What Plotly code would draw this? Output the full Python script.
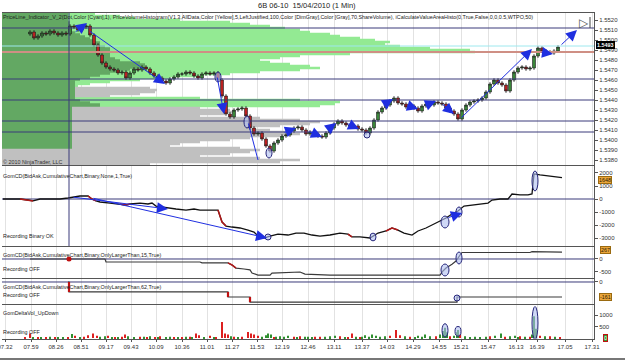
import plotly.graph_objects as go

# ---------------- data ----------------
# x positions are bar slots (1 slot ~ 1 minute bar); time labels at tick slots
tick_pos = [5, 31, 56, 81, 106, 131, 156, 182, 207, 232, 257, 282, 308, 334, 362, 387,
            413, 439, 461, 488, 516, 537, 565, 592]
tick_txt = ["07.32", "07.59", "08.26", "08.51", "09.17", "09.43", "10.09", "10.36", "11.01",
            "11.27", "11.53", "12.19", "12.46", "13.11", "13.37", "14.03", "14.29", "14.55",
            "15.21", "15.47", "16.13", "16.39", "17.05", "17.31"]

# main panel: price (close every 4 bars)
price_x = list(range(30, 562, 4))
price_close = [
    1.5508, 1.5502, 1.5504, 1.5507, 1.5506, 1.5509, 1.5507, 1.5505, 1.5507, 1.5506,
    1.5514, 1.5513, 1.5510, 1.5513, 1.5514, 1.5505, 1.5495, 1.5485,
    1.5477, 1.5473, 1.5471, 1.5470, 1.5467, 1.5468, 1.5462, 1.5467, 1.5471, 1.5470,
    1.5473, 1.5471, 1.5467, 1.5464, 1.5462, 1.5459, 1.5457, 1.5461, 1.5463, 1.5466,
    1.5466, 1.5468, 1.5467, 1.5464, 1.5462, 1.5466, 1.5467, 1.5466, 1.5467, 1.5460,
    1.5444, 1.5426, 1.5423, 1.5430, 1.5431, 1.5432, 1.5424, 1.5412, 1.5406, 1.5407,
    1.5401, 1.5394, 1.5389, 1.5397, 1.5400, 1.5404, 1.5405, 1.5409, 1.5412, 1.5413,
    1.5410, 1.5406, 1.5408, 1.5406, 1.5404, 1.5403, 1.5407, 1.5412, 1.5416, 1.5419,
    1.5417, 1.5415, 1.5413, 1.5414, 1.5411, 1.5410, 1.5407, 1.5412, 1.5420, 1.5428,
    1.5432, 1.5435, 1.5439, 1.5442, 1.5437, 1.5436, 1.5433, 1.5434, 1.5432, 1.5429,
    1.5434, 1.5436, 1.5435, 1.5438, 1.5437, 1.5436, 1.5432, 1.5429, 1.5426, 1.5421,
    1.5430, 1.5435, 1.5438, 1.5439, 1.5440, 1.5442, 1.5448, 1.5456, 1.5460, 1.5457,
    1.5455, 1.5449, 1.5460, 1.5468, 1.5472, 1.5473, 1.5471, 1.5472, 1.5484, 1.5492,
    1.5489, 1.5488, 1.5487, 1.5489, 1.5493]
first_open = 1.5506
wick = 0.0002
last_price = 1.5493

level_lines = [1.5512, 1.5461, 1.5440, 1.5419, 1.5408]
poc_price = 1.5488
priceline_price = 1.5494
cursor_x = 69

# volume profile rows (0.0002 each, from 1.5526 down): gray-histogram end, green-histogram end
vp_gray_end = [68, 68, 68, 68, 70, 70, 70, 72, 72, 75, 80, 85, 90, 95, 100, 100, 105, 110, 110, 110,
               110, 110, 115, 120, 140, 145, 145, 140, 130, 120, 110, 100, 90, 80, 75, 75, 75, 150,
               157, 155, 140, 110, 75, 80, 90, 100, 100, 200, 230, 235, 225, 200, 260, 300, 320, 310,
               280, 250, 270, 290, 300, 280, 250, 230, 200, 180, 170, 240, 260, 250, 230, 200, 260,
               300, 280, 150]
vp_green_end = [95, 120, 135, 180, 230, 250, 270, 285, 300, 310, 330, 340, 360, 375, 390, 385, 400,
                430, 470, 475, 350, 300, 280, 260, 270, 290, 310, 320, 300, 260, 230, 200, 170, 140,
                110, 90, 78, 75, 75, 75, 75, 75, 200, 300, 340, 335, 320, 72, 72, 72, 72, 72, 72, 72,
                72, 72, 72, 72, 72, 72, 72, 72, 72, 72, 72, 72, 72, 72, 0, 0, 0, 0, 0, 0, 0, 0]
vp_top, vp_step = 1.5526, 0.0002
vp_levels = [round(vp_top - vp_step * i, 4) for i in range(len(vp_gray_end))]

# arrows: (x_tail, y_tail, x_head, y_head, has_head)
main_arrows = [(88, 1.5510, 165, 1.5456, 1), (74, 1.5507, 87, 1.5517, 1), (217, 1.5464, 224, 1.5426, 1),
               (248, 1.5418, 258, 1.5380, 0), (283, 1.5407, 296, 1.5412, 1), (308, 1.5409, 322, 1.5403, 1),
               (326, 1.5409, 336, 1.5417, 1), (346, 1.5417, 359, 1.5411, 1), (382, 1.5434, 393, 1.5441, 1),
               (406, 1.5435, 418, 1.5431, 1), (424, 1.5434, 436, 1.5439, 1), (441, 1.5437, 454, 1.5426, 1),
               (460, 1.5421, 532, 1.5491, 1), (540, 1.5488, 553, 1.5486, 1), (560, 1.5494, 577, 1.5510, 1)]
# ellipses: (x_center, y_center, half_width, half_height)
main_ellipses = [(218, 1.5463, 3, 0.0005), (247, 1.5418, 3, 0.0006), (269, 1.5387, 3, 0.0005),
                 (367, 1.5405, 3, 0.0003)]

# panel 2: cumulative delta
cd_x = [3, 20, 28, 33, 40, 50, 60, 68, 74, 80, 88, 92, 96, 100, 110, 120, 126, 130, 140, 148,
        152, 156, 162, 168, 176, 186, 194, 200, 210, 218, 222, 226, 232, 240, 248, 254, 258, 264, 270, 278,
        288, 296, 304, 312, 320, 330, 340, 348, 352, 360, 370, 378, 386, 392, 398, 404, 412, 418, 426, 434,
        440, 446, 452, 458, 464, 472, 480, 488, 492, 500, 508, 512, 520, 528, 532, 534, 540, 548, 556, 562]
cd_v = [0, 0, -77, -150, 0, 0, 0, 77, 150, 230, 230, 0, -150, -230, -310, -385, -460, -385, -310, -385,
        -310, -540, -615, -690, -770, -850, -770, -850, -850, -850, -1770, -2080, -2155, -2230, -2390,
        -2540, -2850, -3000, -2850, -2700, -2770, -2620, -2620, -2770, -2850, -2770, -2620, -2700, -2920,
        -2920, -3000, -2620, -2460, -2230, -2390, -2620, -2770, -2460, -2230, -1920, -1690, -1460, -1150,
        -920, -540, -460, -385, -310, -77, 0, 0, 385, 310, 310, 385, 1925, 1850, 1770, 1690, 1648]
cd_red = [(1, 3), (10, 12), (15, 17), (29, 31), (47, 48), (52, 54)]
cd_last = 1648
cd_arrows = [(72, 154, 168, -770, 1), (92, 77, 267, -3000, 1), (447, -1460, 462, -1080, 1)]
cd_ellipses = [(268, -2923, 3, 230), (373, -2923, 3, 300), (445, -1770, 4, 460), (459, -1000, 3, 385),
               (535, 1385, 3, 770)]

# panel 3: cumulative delta, larger than 15
p3_x = [30, 50, 69, 105, 106, 200, 202, 228, 232, 236, 244, 250, 252, 258, 270, 272, 300, 305, 330,
        440, 443, 446, 452, 456, 460, 462, 530, 532, 562]
p3_v = [0, 0, 0, 0, -115, -115, -150, -150, -230, -350, -385, -420, -540, -620, -620, -540, -500, -580,
        -620, -620, -460, -350, -200, -80, 150, 250, 250, 280, 267]
p3_red = [(7, 9)]
p3_last = 267
p3_ellipses = [(445, -423, 4, 230), (459, 38, 3, 230)]

# panel 4: cumulative delta, larger than 62
p4_x = [68, 69, 228, 250, 457, 562]
p4_v = [0, -107, -161, -215, -161, -161]
p4_last = -161
p4_ellipses = [(457, -172, 3, 32)]

# panel 5: delta volume up / down
up_x = [33, 41, 50, 58, 63, 72, 80, 100, 105, 112, 118, 128, 134, 144, 150, 158, 166, 170, 178, 186,
        192, 204, 214, 231, 238, 262, 266, 268, 271, 276, 280, 284, 288, 297, 305, 308, 312, 325, 330,
        335, 345, 356, 362, 365, 369, 372, 376, 380, 385, 405, 415, 418, 422, 425, 430, 440, 443, 445,
        447, 454, 457, 458, 465, 470, 475, 480, 486, 495, 501, 510, 515, 518, 525, 532, 534, 536, 545, 555]
up_v = [40, 30, 50, 25, 30, 170, 40, 50, 80, 30, 40, 80, 30, 50, 80, 30, 40, 60, 30, 50,
        40, 30, 40, 80, 40, 60, 120, 200, 150, 60, 80, 50, 100, 40, 60, 60, 40, 50, 80,
        100, 40, 60, 50, 120, 60, 150, 100, 50, 80, 80, 40, 100, 60, 150, 80, 150, 300, 450,
        250, 100, 250, 350, 80, 40, 60, 40, 50, 100, 200, 80, 100, 40, 60, 150, 950, 400, 80, 60]
dn_x = [25, 30, 38, 46, 55, 68, 75, 84, 88, 93, 97, 108, 115, 122, 125, 140, 147, 155, 160, 174,
        182, 190, 196, 199, 210, 216, 222, 225, 228, 234, 242, 248, 251, 254, 258, 274, 294, 300, 315,
        320, 340, 348, 352, 360, 390, 396, 400, 410, 436, 450, 460, 490, 505, 520, 530, 540, 550, 560]
dn_v = [30, 200, 40, 30, 40, 40, 100, 50, 120, 200, 100, 100, 40, 50, 150, 60, 40, 30, 80, 40,
        30, 50, 200, 120, 100, 40, 700, 200, 150, 60, 50, 260, 200, 150, 100, 40, 60, 80, 60,
        50, 80, 40, 200, 40, 100, 350, 120, 60, 80, 80, 150, 80, 60, 80, 50, 100, 80, 40]
p5_last = 0
p5_ellipses = [(445, 333, 3, 290), (458, 290, 3, 210), (535, 652, 3, 718)]

# ---------------- layout geometry ----------------
W, H = 625, 361
ML, MR, MT, MB = 2, 31, 13, 22
X0, X1 = 2, 594
PH = H - MT - MB


def fx(px):
    return (px - X0) / (X1 - X0)


def fy(py):
    return (H - MB - py) / PH


dom = {1: [fy(165), 1.0], 2: [fy(246), fy(166)], 3: [fy(278), fy(247)],
       4: [fy(304), fy(279)], 5: [0.0, fy(305)]}
yrng = {1: [1.5375, 1.5527], 2: [-3615, 2538], 3: [-731, 461], 4: [-236, 32], 5: [-43, 1435]}

FONT = "Liberation Sans, Arial, sans-serif"
NAVY = "#3b3b7a"
AX = "#555555"
SMALL = 5.4

fig = go.Figure()

# ---- volume profile (histogram) ----
dk_len, lg_base, lg_len, gr_base, gr_len = [], [], [], [], []
for s, g in zip(vp_gray_end, vp_green_end):
    m = min(s, g)
    dk_len.append(max(m - X0, 0))
    lg_base.append(s)
    lg_len.append(g - s if g > s else 0)
    b = max(g, X0)
    gr_base.append(b)
    gr_len.append(s - b if s > b else 0)

bw = vp_step * 1.2
fig.add_trace(go.Bar(orientation="h", y=vp_levels, x=dk_len, base=[X0] * len(vp_levels), width=bw,
                     marker=dict(color="#63a863", line=dict(width=0)), xaxis="x", yaxis="y", hoverinfo="skip"))
fig.add_trace(go.Bar(orientation="h", y=vp_levels, x=lg_len, base=lg_base, width=bw,
                     marker=dict(color="#93ea93", line=dict(width=0)), xaxis="x", yaxis="y", hoverinfo="skip"))
fig.add_trace(go.Bar(orientation="h", y=vp_levels, x=gr_len, base=gr_base, width=bw,
                     marker=dict(color="#c0c0c0", line=dict(width=0)), xaxis="x", yaxis="y", hoverinfo="skip"))

# ---- level lines ----
fig.add_trace(go.Scatter(x=[X0, X1], y=[priceline_price] * 2, mode="lines",
                         line=dict(color="#9ee8ee", width=1), xaxis="x", yaxis="y", hoverinfo="skip"))
fig.add_trace(go.Scatter(x=[X0, X1], y=[poc_price] * 2, mode="lines",
                         line=dict(color="#cf8f84", width=2), xaxis="x", yaxis="y", hoverinfo="skip"))
for lv in level_lines:
    fig.add_trace(go.Scatter(x=[X0, X1], y=[lv, lv], mode="lines",
                             line=dict(color=NAVY, width=1), xaxis="x", yaxis="y", hoverinfo="skip"))

# ---- candles ----
opens = [first_open] + price_close[:-1]
highs = [max(o, c) + wick for o, c in zip(opens, price_close)]
lows = [min(o, c) - wick for o, c in zip(opens, price_close)]
fig.add_trace(go.Candlestick(x=price_x, open=opens, high=highs, low=lows, close=price_close,
                             increasing=dict(fillcolor="#3d8f3d", line=dict(color="#1c1c1c", width=0.7)),
                             decreasing=dict(fillcolor="#c62222", line=dict(color="#1c1c1c", width=0.7)),
                             whiskerwidth=0, xaxis="x", yaxis="y", hoverinfo="skip"))

# ---- panel 2 ----
fig.add_trace(go.Scatter(x=[X0, X1], y=[0, 0], mode="lines", line=dict(color=NAVY, width=1),
                         xaxis="x2", yaxis="y2", hoverinfo="skip"))
fig.add_trace(go.Scatter(x=cd_x, y=cd_v, mode="lines", line=dict(color="#111111", width=1.3),
                         xaxis="x2", yaxis="y2", hoverinfo="skip"))
rx, ry = [], []
for a, b in cd_red:
    rx += cd_x[a:b + 1] + [None]
    ry += cd_v[a:b + 1] + [None]
fig.add_trace(go.Scatter(x=rx, y=ry, mode="lines", line=dict(color="#b01818", width=1.5),
                         xaxis="x2", yaxis="y2", hoverinfo="skip"))

# ---- panel 3 ----
fig.add_trace(go.Scatter(x=[X0, X1], y=[0, 0], mode="lines", line=dict(color=NAVY, width=1),
                         xaxis="x3", yaxis="y3", hoverinfo="skip"))
fig.add_trace(go.Scatter(x=p3_x, y=p3_v, mode="lines", line=dict(color="#3a3a3a", width=1.2),
                         xaxis="x3", yaxis="y3", hoverinfo="skip"))
rx, ry = [], []
for a, b in p3_red:
    rx += p3_x[a:b + 1] + [None]
    ry += p3_v[a:b + 1] + [None]
fig.add_trace(go.Scatter(x=rx, y=ry, mode="lines", line=dict(color="#b01818", width=1.5),
                         xaxis="x3", yaxis="y3", hoverinfo="skip"))
fig.add_trace(go.Scatter(x=[cursor_x], y=[0], mode="markers", marker=dict(color="#c01010", size=5),
                         xaxis="x3", yaxis="y3", hoverinfo="skip"))

# ---- panel 4 ----
fig.add_trace(go.Scatter(x=[X0, X1], y=[0, 0], mode="lines", line=dict(color=NAVY, width=1),
                         xaxis="x4", yaxis="y4", hoverinfo="skip"))
fig.add_trace(go.Scatter(x=p4_x, y=p4_v, mode="lines", line=dict(color="#3a3a3a", width=1.2, shape="hv"),
                         xaxis="x4", yaxis="y4", hoverinfo="skip"))
rx, ry = [], []
for i in range(1, 4):
    rx += [p4_x[i], p4_x[i], None]
    ry += [p4_v[i - 1], p4_v[i], None]
fig.add_trace(go.Scatter(x=rx, y=ry, mode="lines", line=dict(color="#c01010", width=2.2),
                         xaxis="x4", yaxis="y4", hoverinfo="skip"))

# ---- panel 5 ----
fig.add_trace(go.Bar(x=up_x, y=up_v, width=1.6, marker=dict(color="#2f8f2f", line=dict(width=0)),
                     xaxis="x5", yaxis="y5", hoverinfo="skip"))
fig.add_trace(go.Bar(x=dn_x, y=dn_v, width=1.6, marker=dict(color="#dd1f1f", line=dict(width=0)),
                     xaxis="x5", yaxis="y5", hoverinfo="skip"))

# ---------------- shapes ----------------
shapes = []
for ax_i, ells in [(1, main_ellipses), (2, cd_ellipses), (3, p3_ellipses), (4, p4_ellipses), (5, p5_ellipses)]:
    sfx = "" if ax_i == 1 else str(ax_i)
    for cx, cy, hw, hh in ells:
        shapes.append(dict(type="circle", xref="x" + sfx, yref="y" + sfx, x0=cx - hw, x1=cx + hw,
                           y0=cy - hh, y1=cy + hh, fillcolor="rgba(175,190,240,0.6)",
                           line=dict(color="#26267a", width=1), layer="above"))
shapes.append(dict(type="line", xref="x", yref="paper", x0=cursor_x, x1=cursor_x, y0=dom[2][0], y1=1,
                   line=dict(color=NAVY, width=1), layer="above"))
# play icon bar and bottom frame
shapes.append(dict(type="line", xref="paper", yref="paper", x0=fx(590), x1=fx(590), y0=fy(17), y1=fy(28),
                   line=dict(color="#444", width=1)))
shapes.append(dict(type="line", xref="paper", yref="paper", x0=fx(0), x1=fx(625), y0=fy(359), y1=fy(359),
                   line=dict(color="#777", width=2)))

# ---------------- annotations ----------------
ann = []


def txt(px, py, s, size=SMALL, color="#222", anchor="left"):
    ann.append(dict(xref="paper", yref="paper", x=fx(px), y=fy(py), text=s, showarrow=False,
                    xanchor=anchor, yanchor="middle", borderpad=0,
                    font=dict(size=size, color=color, family=FONT)))


txt(307, 6, "6B 06-10  15/04/2010 (1 Min)", size=7.5, anchor="center")
txt(2, 17, "PriceLine_Indicator_V_2(Dot,Color [Cyan],1), PriceVolumeHistogram(V1.3,AllData,Color [Yellow],5,"
           "LeftJustified,100,Color [DimGray],Color [Gray],70,ShareVolume), "
           "iCalculateValueAreaHisto(0,True,False,0,0,0.5,WTPO,50)")
txt(2, 162, "© 2010 NinjaTrader, LLC", color="#333")
txt(2, 176, "GomCD(BidAsk,CumulativeChart,Binary,None,1,True)")
txt(2, 236, "Recording Binary OK")
txt(2, 255, "GomCD(BidAsk,CumulativeChart,Binary,OnlyLargerThan,15,True)")
txt(2, 269, "Recording OFF")
txt(2, 287, "GomCD(BidAsk,CumulativeChart,Binary,OnlyLargerThan,62,True)")
txt(2, 295, "Recording OFF")
txt(2, 313, "GomDeltaVol_UpDown")
txt(2, 332, "Recording OFF")
txt(584, 23, "▷", size=12, color="#555", anchor="center")

for ax_i, arrs in [(1, main_arrows), (2, cd_arrows)]:
    sfx = "" if ax_i == 1 else str(ax_i)
    for xt, yt, xh, yh, head in arrs:
        ann.append(dict(xref="x" + sfx, yref="y" + sfx, axref="x" + sfx, ayref="y" + sfx,
                        x=xh, y=yh, ax=xt, ay=yt, text="", showarrow=True,
                        arrowhead=2 if head else 0, arrowsize=2.2, arrowwidth=1,
                        arrowcolor="#1f2fe0", standoff=0, startstandoff=0))


def tag(py, s, bg, fg, border):
    ann.append(dict(xref="paper", yref="paper", x=fx(605), y=fy(py), text=s, showarrow=False,
                    xanchor="center", yanchor="middle", bgcolor=bg, bordercolor=border, borderwidth=1,
                    borderpad=0, font=dict(size=SMALL, color=fg, family=FONT)))


tag(44.5, "<b>%.4f</b>" % last_price, "#000000", "#ffffff", "#000000")
tag(179.5, str(cd_last), "#eaa53a", "#2a1a00", "#9a6a10")
tag(250, str(p3_last), "#eaa53a", "#2a1a00", "#9a6a10")
tag(297, str(p4_last), "#eaa53a", "#2a1a00", "#9a6a10")
tag(338, str(p5_last), "#2f9f2f", "#ffffff", "#c01010")

# ---------------- axes ----------------
common_x = dict(range=[X0, X1], showgrid=True, gridcolor="#e2e2e2", gridwidth=1, tickvals=tick_pos,
                ticktext=tick_txt, showline=True, mirror=True, linecolor=AX, linewidth=1.3,
                zeroline=False, fixedrange=True, automargin=False)
layout_axes = {}
layout_axes["xaxis"] = dict(common_x, anchor="y", showticklabels=False, ticks="",
                            rangeslider=dict(visible=False))
for i in (2, 3, 4):
    layout_axes["xaxis%d" % i] = dict(common_x, anchor="y%d" % i, matches="x", showticklabels=False,
                                      ticks="")
layout_axes["xaxis5"] = dict(common_x, anchor="y5", matches="x", showticklabels=True, ticks="outside",
                             ticklen=2, tickcolor=AX, tickfont=dict(size=6, color="#333", family=FONT),
                             ticklabeloverflow="allow")

ytick = {
    1: [round(1.5380 + 0.001 * i, 4) for i in range(15)],
    2: [-3000, -2000, -1000, 0, 1000, 2000],
    3: [-500, 0],
    4: [0],
    5: [500, 1000],
}
for i in range(1, 6):
    name = "yaxis" if i == 1 else "yaxis%d" % i
    tv = ytick[i]
    tt = ["%.4f" % v for v in tv] if i == 1 else [str(v) for v in tv]
    layout_axes[name] = dict(domain=dom[i], range=yrng[i], side="right",
                             anchor="x" if i == 1 else "x%d" % i, tickvals=tv, ticktext=tt,
                             ticks="outside", ticklen=3, tickcolor=AX,
                             tickfont=dict(size=6, color="#333", family=FONT),
                             showgrid=False, zeroline=False, showline=True, linecolor=AX, linewidth=1,
                             fixedrange=True, automargin=False)

fig.update_layout(width=W, height=H, margin=dict(l=ML, r=MR, t=MT, b=MB, pad=0, autoexpand=False),
                  paper_bgcolor="white", plot_bgcolor="white", showlegend=False, barmode="overlay",
                  boxgap=0.0, hovermode=False, font=dict(family=FONT, size=6, color="#222"),
                  shapes=shapes, annotations=ann, **layout_axes)

fig.write_html("out.html")
